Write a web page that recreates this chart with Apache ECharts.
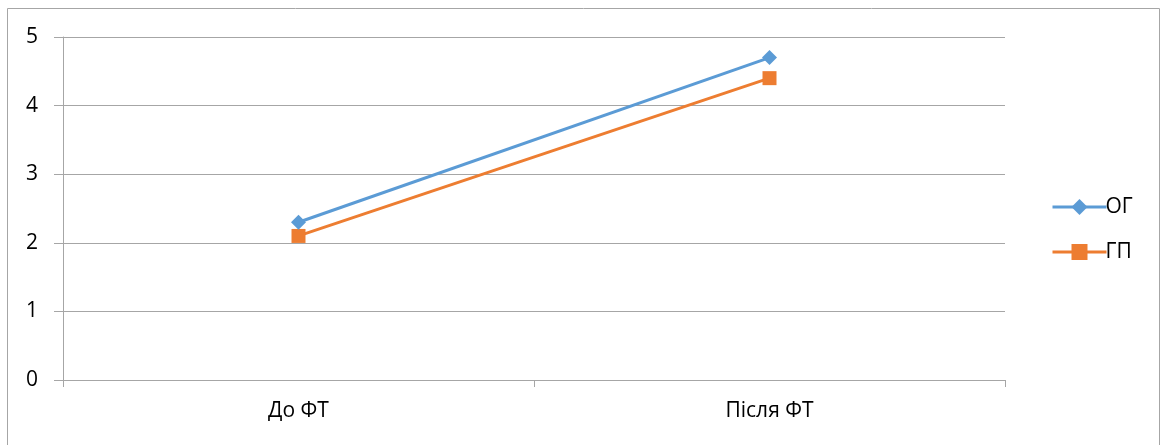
<!DOCTYPE html>
<html>
<head>
<meta charset="utf-8">
<script src="https://cdn.jsdelivr.net/npm/echarts@6/dist/echarts.min.js"></script>
<style>
  html, body { margin: 0; padding: 0; background: #fff; }
  #chart { width: 1166px; height: 445px; }
</style>
</head>
<body>
<div id="chart"></div>
<script>
// Categories and series values
const categories = ['До ФТ', 'Після ФТ'];
const seriesOG = [2.3, 4.7];
const seriesGP = [2.1, 4.4];
const seriesNames = ['ОГ', 'ГП'];
const yTicks = { min: 0, max: 5, interval: 1 };

const font = '"Open Sans", "Liberation Sans", sans-serif';
const chart = echarts.init(document.getElementById('chart'), null, { renderer: 'canvas' });

chart.setOption({
  animation: false,
  backgroundColor: '#fff',
  graphic: [{
    type: 'rect',
    shape: { x: 7.5, y: 8.5, width: 1152, height: 460 },
    style: { fill: 'none', stroke: '#a6a6a6', lineWidth: 1 },
    silent: true
  }],
  grid: { left: 63, right: 161, top: 37, bottom: 65, containLabel: false },
  legend: {
    orient: 'vertical',
    left: 1046,
    top: 191,
    itemWidth: 54,
    itemHeight: 20,
    itemGap: 23,
    lineStyle: { width: 3 },
    textStyle: { fontFamily: font, fontSize: 21, lineHeight: 22, color: '#000', padding: [0, 0, 0, -6] },
    data: seriesNames
  },
  xAxis: {
    type: 'category',
    data: categories,
    boundaryGap: true,
    axisLine: { lineStyle: { color: '#a6a6a6', width: 1 } },
    axisTick: { show: true, length: 7, alignWithLabel: false, lineStyle: { color: '#a6a6a6' } },
    axisLabel: { fontFamily: font, fontSize: 21, color: '#000', margin: 21 },
    splitLine: { show: false }
  },
  yAxis: {
    type: 'value',
    min: yTicks.min,
    max: yTicks.max,
    interval: yTicks.interval,
    axisLine: { show: true, lineStyle: { color: '#a6a6a6', width: 1 } },
    axisTick: { show: true, length: 9, lineStyle: { color: '#a6a6a6' } },
    axisLabel: { fontFamily: font, fontSize: 21, color: '#000', margin: 25 },
    splitLine: { lineStyle: { color: '#a6a6a6', width: 1 } }
  },
  series: [
    {
      name: seriesNames[0],
      type: 'line',
      data: seriesOG,
      symbol: 'diamond',
      symbolSize: 15,
      itemStyle: { color: '#5B9BD5' },
      lineStyle: { color: '#5B9BD5', width: 3 },
      z: 3
    },
    {
      name: seriesNames[1],
      type: 'line',
      data: seriesGP,
      symbol: 'rect',
      symbolSize: 14,
      itemStyle: { color: '#ED7D31' },
      lineStyle: { color: '#ED7D31', width: 3 },
      z: 2
    }
  ]
});
</script>
</body>
</html>
